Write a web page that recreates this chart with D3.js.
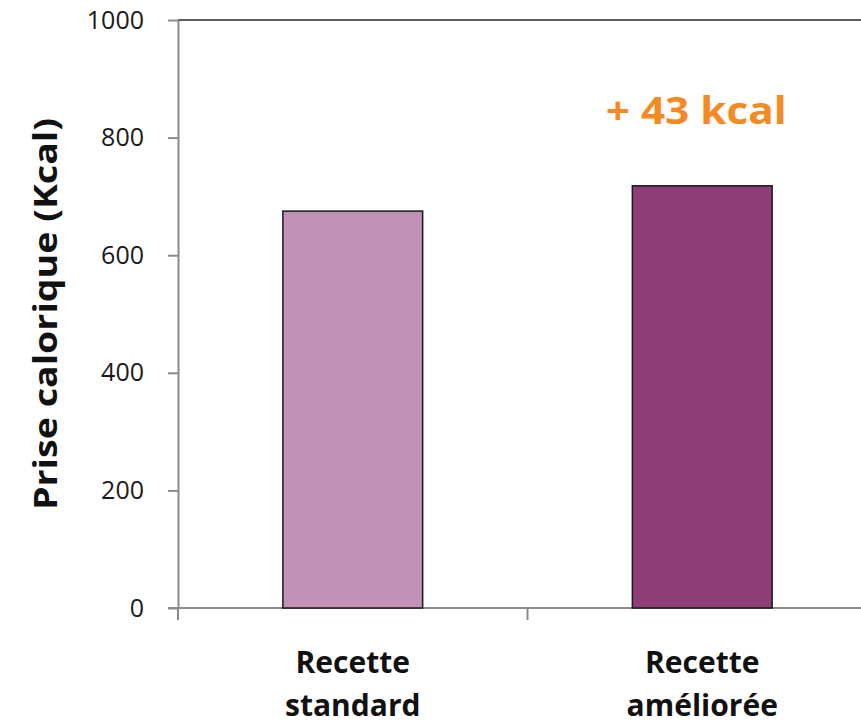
<!DOCTYPE html>
<html>
<head>
<meta charset="utf-8">
<script src="https://cdn.jsdelivr.net/npm/d3@7"></script>
<style>
  html, body { margin: 0; padding: 0; background: #fff; }
  svg text { font-family: "Open Sans", "Noto Sans", sans-serif; }
</style>
</head>
<body>
<svg id="chart" width="861" height="726"></svg>
<script>
// Calorie intake per recipe
const categories = [["Recette", "standard"], ["Recette", "améliorée"]];
const calories = [675, 718];
const barColors = ["#C291B5", "#8E3D76"];
const yTicks = [0, 200, 400, 600, 800, 1000];
const yTitle = "Prise calorique (Kcal)";
const diffLabel = "+ 43 kcal";

const svg = d3.select("#chart");
const plotLeft = 178, plotTop = 20, plotBottom = 608, bandStep = 349.5;

const x = d3.scaleBand()
  .domain(d3.range(categories.length))
  .range([plotLeft, plotLeft + bandStep * categories.length])
  .paddingInner(0.6).paddingOuter(0.3);
const y = d3.scaleLinear().domain([0, 1000]).range([plotBottom, plotTop]);

// top border of the plot area
svg.append("line")
  .attr("x1", plotLeft).attr("x2", 861)
  .attr("y1", y(1000)).attr("y2", y(1000))
  .attr("stroke", "#2b2b2b").attr("stroke-width", 1.5);

// y axis
const yAxis = svg.append("g")
  .attr("transform", `translate(${plotLeft},0)`)
  .call(d3.axisLeft(y).tickValues(yTicks).tickFormat(d3.format("d"))
    .tickSize(10).tickSizeOuter(0).tickPadding(24));
yAxis.select(".domain").attr("stroke", "#8c8c8c").attr("stroke-width", 2);
yAxis.selectAll(".tick line").attr("stroke", "#8c8c8c").attr("stroke-width", 2);
yAxis.selectAll(".tick text")
  .attr("fill", "#1a1a1a").attr("font-size", 25)
  .style("font-family", "'Open Sans', sans-serif");

// x axis with ticks at band boundaries
svg.append("line")
  .attr("x1", plotLeft - 10).attr("x2", 861)
  .attr("y1", plotBottom).attr("y2", plotBottom)
  .attr("stroke", "#8c8c8c").attr("stroke-width", 2);
const boundaries = d3.range(categories.length + 1).map(i => plotLeft + i * bandStep);
svg.selectAll(".xtick").data(boundaries).join("line")
  .attr("class", "xtick")
  .attr("x1", d => d).attr("x2", d => d)
  .attr("y1", plotBottom).attr("y2", plotBottom + 12)
  .attr("stroke", "#8c8c8c").attr("stroke-width", 2);

// bars
svg.selectAll(".bar").data(calories).join("rect")
  .attr("class", "bar")
  .attr("x", (d, i) => x(i))
  .attr("width", x.bandwidth())
  .attr("y", d => y(d))
  .attr("height", d => y(0) - y(d))
  .attr("fill", (d, i) => barColors[i])
  .attr("stroke", "#1a1a1a").attr("stroke-width", 1.5);

// category labels
const catG = svg.selectAll(".cat").data(categories).join("text")
  .attr("class", "cat")
  .attr("text-anchor", "middle")
  .attr("font-size", 30).attr("font-weight", "bold").attr("fill", "#111");
catG.each(function(d, i) {
  const cx = x(i) + x.bandwidth() / 2;
  d3.select(this).selectAll("tspan").data(d).join("tspan")
    .attr("x", cx)
    .attr("y", (t, j) => 673 + j * 43)
    .text(t => t);
});

// y axis title
svg.append("text")
  .attr("transform", `translate(57,${(118 + 510) / 2}) rotate(-90)`)
  .attr("text-anchor", "middle")
  .attr("font-size", 33).attr("font-weight", "bold").attr("fill", "#111")
  .attr("textLength", 392).attr("lengthAdjust", "spacingAndGlyphs")
  .text(yTitle);

// difference annotation
svg.append("text")
  .attr("x", x(1) + x.bandwidth() / 2 - 6)
  .attr("y", 124)
  .attr("text-anchor", "middle")
  .attr("font-size", 38).attr("font-weight", "bold").attr("fill", "#F58A23")
  .attr("textLength", 181).attr("lengthAdjust", "spacingAndGlyphs")
  .text(diffLabel);
</script>
</body>
</html>
